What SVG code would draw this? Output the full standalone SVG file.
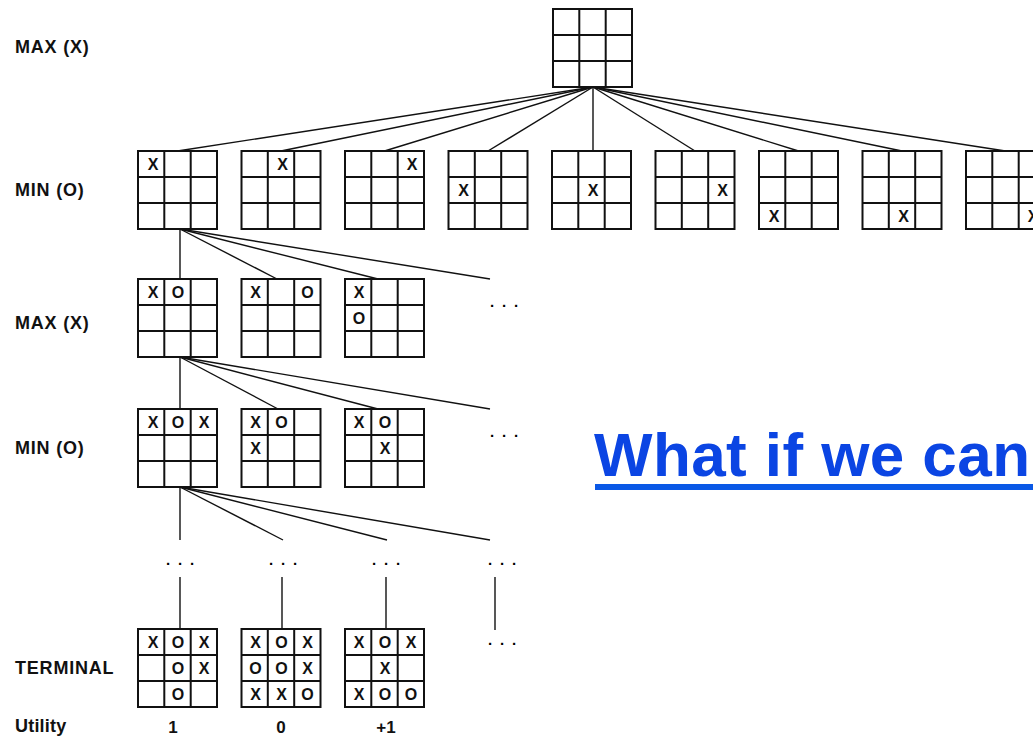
<svg xmlns="http://www.w3.org/2000/svg" xmlns:xlink="http://www.w3.org/1999/xlink" width="1033" height="739" viewBox="0 0 1033 739">
<style>
.lbl{font-family:"Liberation Sans",Arial,sans-serif;font-weight:bold;font-size:18px;fill:#111;letter-spacing:0.8px}
.m{font-family:"Liberation Sans",Arial,sans-serif;font-weight:bold;font-size:16px;fill:#111;text-anchor:middle}
.u{font-family:"Liberation Sans",Arial,sans-serif;font-weight:bold;font-size:17px;fill:#111;text-anchor:middle}
.dots{font-family:"Liberation Sans",Arial,sans-serif;font-weight:bold;font-size:15px;fill:#000;letter-spacing:7.8px}
.conn line{stroke:#111;stroke-width:1.4}
.big{font-family:"Liberation Sans",Arial,sans-serif;font-weight:bold;font-size:62px;fill:#0b45e3}
</style>
<defs>
<g id="grid">
<rect x="0" y="0" width="79" height="78" fill="#fff" stroke="#111" stroke-width="2"/>
<path d="M26.3 0V78M52.7 0V78M0 26H79M0 52H79" stroke="#111" stroke-width="2" fill="none"/>
</g>
</defs>
<rect width="1033" height="739" fill="#fff"/>

<g id="labels">
<text class="lbl" x="15" y="53">MAX (X)</text>
<text class="lbl" x="15" y="196">MIN (O)</text>
<text class="lbl" x="15" y="329">MAX (X)</text>
<text class="lbl" x="15" y="454">MIN (O)</text>
<text class="lbl" x="15" y="674">TERMINAL</text>
<text class="lbl" x="15" y="732" style="letter-spacing:0.2px">Utility</text>
</g>

<g id="connectors" class="conn">
<line x1="593" y1="87" x2="177.5" y2="151"/>
<line x1="593" y1="87" x2="281" y2="151"/>
<line x1="593" y1="87" x2="384.5" y2="151"/>
<line x1="593" y1="87" x2="488" y2="151"/>
<line x1="593" y1="87" x2="593" y2="151"/>
<line x1="593" y1="87" x2="695" y2="151"/>
<line x1="593" y1="87" x2="798.5" y2="151"/>
<line x1="593" y1="87" x2="902" y2="151"/>
<line x1="593" y1="87" x2="1005.5" y2="151"/>
<line x1="180" y1="229" x2="180" y2="279"/>
<line x1="180" y1="229" x2="277" y2="279"/>
<line x1="180" y1="229" x2="378" y2="279"/>
<line x1="180" y1="229" x2="490" y2="279"/>
<line x1="180" y1="357" x2="180" y2="409"/>
<line x1="180" y1="357" x2="278" y2="409"/>
<line x1="180" y1="357" x2="378" y2="409"/>
<line x1="180" y1="357" x2="490" y2="409"/>
<line x1="180" y1="487" x2="180" y2="540"/>
<line x1="180" y1="487" x2="283" y2="540"/>
<line x1="180" y1="487" x2="387" y2="540"/>
<line x1="180" y1="487" x2="490" y2="540"/>
<line x1="180" y1="577" x2="180" y2="629"/>
<line x1="282" y1="577" x2="282" y2="629"/>
<line x1="386" y1="577" x2="386" y2="629"/>
<line x1="495" y1="577" x2="495" y2="630"/>
</g>

<g id="dots">
<text class="dots" x="490" y="307">...</text>
<text class="dots" x="490" y="437">...</text>
<text class="dots" x="166" y="565">...</text>
<text class="dots" x="269" y="565">...</text>
<text class="dots" x="372" y="565">...</text>
<text class="dots" x="488" y="565">...</text>
<text class="dots" x="488" y="645">...</text>
</g>

<g id="root" transform="translate(553,9)"><use xlink:href="#grid"/></g>

<g id="min1" transform="translate(138,151)"><use xlink:href="#grid"/><text class="m" x="15" y="19">X</text></g>
<g id="min2" transform="translate(241.5,151)"><use xlink:href="#grid"/><text class="m" x="41" y="19">X</text></g>
<g id="min3" transform="translate(345,151)"><use xlink:href="#grid"/><text class="m" x="67" y="19">X</text></g>
<g id="min4" transform="translate(448.5,151)"><use xlink:href="#grid"/><text class="m" x="15" y="45">X</text></g>
<g id="min5" transform="translate(552,151)"><use xlink:href="#grid"/><text class="m" x="41" y="45">X</text></g>
<g id="min6" transform="translate(655.5,151)"><use xlink:href="#grid"/><text class="m" x="67" y="45">X</text></g>
<g id="min7" transform="translate(759,151)"><use xlink:href="#grid"/><text class="m" x="15" y="71">X</text></g>
<g id="min8" transform="translate(862.5,151)"><use xlink:href="#grid"/><text class="m" x="41" y="71">X</text></g>
<g id="min9" transform="translate(966,151)"><use xlink:href="#grid"/><text class="m" x="67" y="71">X</text></g>

<g id="max2a" transform="translate(138,279)"><use xlink:href="#grid"/><text class="m" x="15" y="19">X</text><text class="m" x="40" y="19">O</text></g>
<g id="max2b" transform="translate(241.5,279)"><use xlink:href="#grid"/><text class="m" x="14" y="19">X</text><text class="m" x="66" y="19">O</text></g>
<g id="max2c" transform="translate(345,279)"><use xlink:href="#grid"/><text class="m" x="14" y="19">X</text><text class="m" x="14" y="45">O</text></g>

<g id="min3a" transform="translate(138,409)"><use xlink:href="#grid"/><text class="m" x="15" y="19">X</text><text class="m" x="40" y="19">O</text><text class="m" x="66" y="19">X</text></g>
<g id="min3b" transform="translate(241.5,409)"><use xlink:href="#grid"/><text class="m" x="14" y="19">X</text><text class="m" x="40" y="19">O</text><text class="m" x="14" y="45">X</text></g>
<g id="min3c" transform="translate(345,409)"><use xlink:href="#grid"/><text class="m" x="14" y="19">X</text><text class="m" x="40" y="19">O</text><text class="m" x="40" y="45">X</text></g>

<g id="term1" transform="translate(138,629)"><use xlink:href="#grid"/>
<text class="m" x="15" y="19">X</text><text class="m" x="40" y="19">O</text><text class="m" x="66" y="19">X</text>
<text class="m" x="40" y="45">O</text><text class="m" x="66" y="45">X</text>
<text class="m" x="40" y="71">O</text></g>
<g id="term2" transform="translate(241.5,629)"><use xlink:href="#grid"/>
<text class="m" x="14" y="19">X</text><text class="m" x="40" y="19">O</text><text class="m" x="66" y="19">X</text>
<text class="m" x="14" y="45">O</text><text class="m" x="40" y="45">O</text><text class="m" x="66" y="45">X</text>
<text class="m" x="14" y="71">X</text><text class="m" x="40" y="71">X</text><text class="m" x="66" y="71">O</text></g>
<g id="term3" transform="translate(345,629)"><use xlink:href="#grid"/>
<text class="m" x="14" y="19">X</text><text class="m" x="40" y="19">O</text><text class="m" x="66" y="19">X</text>
<text class="m" x="40" y="45">X</text>
<text class="m" x="14" y="71">X</text><text class="m" x="40" y="71">O</text><text class="m" x="66" y="71">O</text></g>

<g id="utility">
<text class="u" x="173" y="733">1</text>
<text class="u" x="281" y="733">0</text>
<text class="u" x="386" y="733">+1</text>
</g>

<g id="question">
<text class="big" x="594" y="476" textLength="436" lengthAdjust="spacing">What if we can</text>
<rect x="595" y="484" width="438" height="6" fill="#0a58e6"/>
</g>
</svg>
